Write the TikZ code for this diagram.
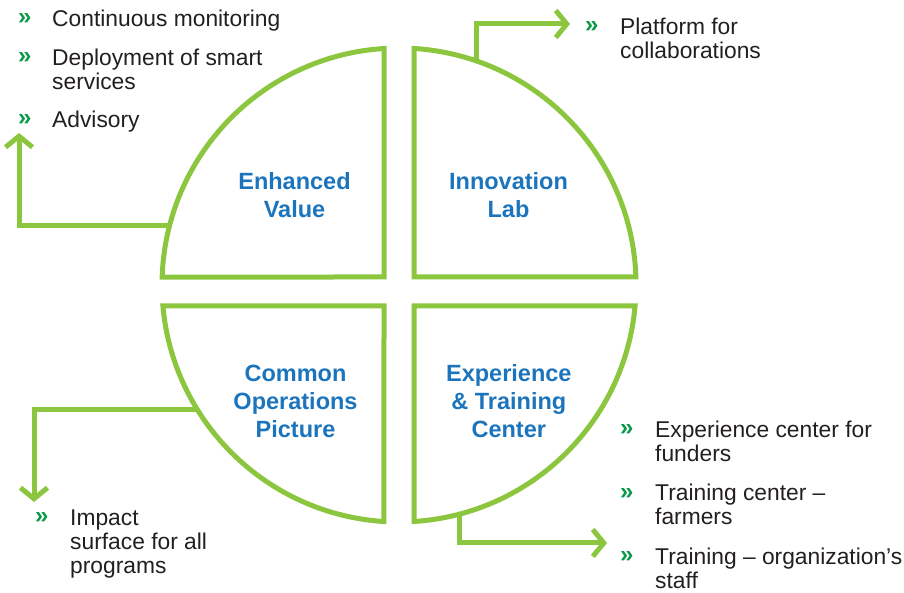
\documentclass[tikz,border=0pt]{standalone}
\usepackage{fontspec}
\setmainfont{Liberation Sans}
\usetikzlibrary{arrows.meta}
\definecolor{lgreen}{HTML}{8CC63F}
\definecolor{dgreen}{HTML}{0A9A4A}
\definecolor{lblue}{HTML}{1C75BC}
\definecolor{txt}{HTML}{231F20}
\begin{document}
\begin{tikzpicture}[x=1pt,y=1pt,
  piece/.style={draw=lgreen, line width=5pt, line join=miter},
  lbl/.style={font=\fontsize{23.5}{28}\selectfont\bfseries, text=lblue, align=center, inner sep=0, anchor=base},
  item/.style={font=\fontsize{22.8}{24}\selectfont, text=txt, align=left, anchor=base west, inner sep=0},
  bul/.style={font=\fontsize{24}{24}\selectfont\bfseries, text=dgreen, anchor=base west, inner sep=0},
  conn/.style={draw=lgreen, line width=5pt, -{Straight Barb[length=11pt,width=27pt]}}]
\useasboundingbox (0,0) rectangle (904,593);
% quadrants
\draw[piece] (384,316) -- (384,544.5) arc[start angle=93.63,end angle=178.07,radius=237] -- cycle;
\draw[piece] (414,316) -- (635.9,316) arc[start angle=1.93,end angle=86.37,radius=237] -- cycle;
\draw[piece] (384,287) -- (162.9,287) arc[start angle=185.08,end angle=266.37,radius=237] -- cycle;
\draw[piece] (414,287) -- (414,71.5) arc[start angle=-86.37,end angle=-5.08,radius=237] -- cycle;
% labels (anchor base = last line)
\node[lbl] (ev) at (294.5,375) {Enhanced\\Value};
\node[lbl] (il) at (508.5,375) {Innovation\\Lab};
\node[lbl] (cop) at (295.5,155) {Common\\Operations\\Picture};
\node[lbl] (etc) at (508.8,155) {Experience\\\& Training\\Center};
% items
\node[bul] (b1) at (18,568) {»};
\node[item] (t1) at (52,566) {Continuous monitoring};
\node[bul] (b2) at (18,529) {»};
\node[item] (t2) at (52,503) {Deployment of smart\\services};
\node[bul] (b3) at (18,467) {»};
\node[item] (t3) at (52,465) {Advisory};
\node[bul] (b4) at (585,560) {»};
\node[item] (t4) at (620,534) {Platform for\\collaborations};
\node[bul] (b5) at (35,69) {»};
\node[item] (t5) at (70,19) {Impact\\surface for all\\programs};
\node[bul] (b6) at (620,157) {»};
\node[item] (t6) at (655,131) {Experience center for\\funders};
\node[bul] (b7) at (620,93) {»};
\node[item] (t7) at (655,68) {Training center –\\farmers};
\node[bul] (b8) at (620,30) {»};
\node[item] (t8) at (655,4) {Training – organization’s\\staff};
% connectors
\coordinate (c1) at (169.5,367);
\coordinate (e1) at (19,460);
\draw[conn] (c1) -| (e1);
\coordinate (c2) at (476,532);
\coordinate (e2) at (570,569);
\draw[conn] (c2) |- (e2);
\coordinate (c3) at (197.6,183);
\coordinate (e3) at (34,91);
\draw[conn] (c3) -| (e3);
\coordinate (c4) at (459,78.7);
\coordinate (e4) at (607,50);
\draw[conn] (c4) |- (e4);
\end{tikzpicture}
\end{document}
